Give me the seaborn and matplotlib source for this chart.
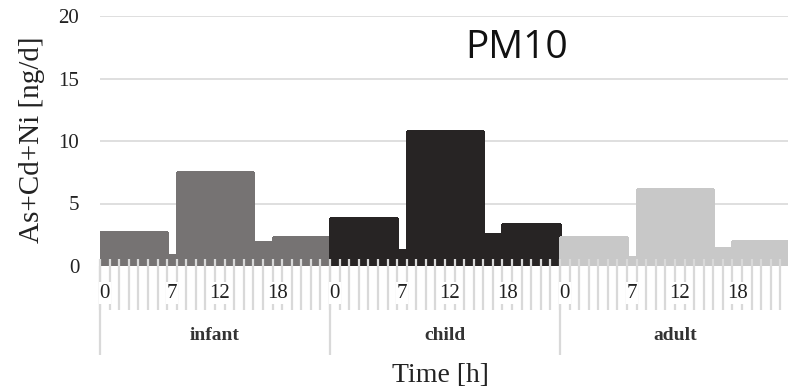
import matplotlib
matplotlib.use("Agg")
import matplotlib.pyplot as plt
import matplotlib.transforms as mtransforms
import pandas as pd
import seaborn as sns

# Hourly exposure (ng/d) for each age group, hours 0..23
groups = ["infant", "child", "adult"]
infant = [2.75, 2.75, 2.75, 2.75, 2.75, 2.75, 2.75, 0.9,
          7.55, 7.55, 7.55, 7.55, 7.55, 7.55, 7.55, 7.55,
          1.9, 1.9, 2.3, 2.3, 2.3, 2.3, 2.3, 2.3]
child = [3.85, 3.85, 3.85, 3.85, 3.85, 3.85, 3.85, 1.3,
         10.8, 10.8, 10.8, 10.8, 10.8, 10.8, 10.8, 10.8,
         2.6, 2.6, 3.4, 3.4, 3.4, 3.4, 3.4, 3.4]
adult = [2.3, 2.3, 2.3, 2.3, 2.3, 2.3, 2.3, 0.75,
         6.15, 6.15, 6.15, 6.15, 6.15, 6.15, 6.15, 6.15,
         1.45, 1.45, 2.0, 2.0, 2.0, 2.0, 2.0, 2.0]
hours = list(range(24))
hour_labels_shown = [0, 7, 12, 18]
colors = ["#767272", "#272324", "#c8c8c8"]
yticks = [0, 5, 10, 15, 20]

series = [infant, child, adult]
rows = []
for gi, (g, vals) in enumerate(zip(groups, series)):
    for h, v in zip(hours, vals):
        rows.append({"slot": gi * len(hours) + h, "group": g, "hour": h, "value": v})
df = pd.DataFrame(rows)

sns.set_theme(style="white")
plt.rcParams["font.family"] = ["Liberation Serif", "DejaVu Serif"]

W, H = 788, 391
fig = plt.figure(figsize=(W / 100, H / 100), dpi=100)
ax = fig.add_axes([100 / W, 125 / H, 690 / W, 250 / H])

sns.barplot(data=df, x="slot", y="value", hue="group", hue_order=groups,
            palette=colors, dodge=False, width=1.0, linewidth=0,
            legend=False, ax=ax, zorder=2)
# close the hairline seams between adjacent hourly bars
for p in ax.patches:
    p.set_edgecolor(p.get_facecolor())
    p.set_linewidth(0.8)
    p.set_antialiased(False)

n = len(df)
ax.set_xlim(-0.5, n - 0.5)
ax.set_ylim(0, 20)
ax.set_yticks(yticks)
ax.set_yticklabels([str(t) for t in yticks], fontsize=15, color="#222222")
ax.tick_params(axis="y", length=0, pad=15)
ax.set_xticks([])
ax.set_xlabel("")
ax.set_ylabel("")
for s in ax.spines.values():
    s.set_visible(False)

grid_c = "#d9d9d9"
# horizontal gridlines
for t in yticks[1:]:
    ax.axhline(t, color=grid_c, lw=1.2, zorder=1)

trans = mtransforms.blended_transform_factory(ax.transData, ax.transAxes)
# hour tick marks (they run slightly up into the bars)
up = 0.55 / 20
for k in range(n + 1):
    ax.plot([k - 0.5, k - 0.5], [up, -0.176], transform=trans,
            color=grid_c, lw=1.6, clip_on=False, zorder=4,
            solid_capstyle="butt")
# group separators
for gi in range(len(groups) + 1):
    x = gi * len(hours) - 0.5
    ax.plot([x, x], [0, -0.356], transform=trans, color=grid_c,
            lw=1.6, clip_on=False, zorder=4, solid_capstyle="butt")

# hour labels and group labels
for gi, g in enumerate(groups):
    for h in hour_labels_shown:
        ax.text(gi * len(hours) + h, -0.108, str(h), transform=trans,
                ha="center", va="center", fontsize=15, color="#222222",
                zorder=6, bbox=dict(boxstyle="square,pad=0.05", fc="white",
                                    ec="none"))
    ax.text(gi * len(hours) + (len(hours) - 1) / 2, -0.28, g, transform=trans,
            ha="center", va="center", fontsize=14, weight="bold",
            color="#333333")

fig.text(440 / W, 1 - 375 / H, "Time [h]", ha="center", va="center",
         fontsize=20, color="#222222")
fig.text(32 / W, 1 - 140 / H, "As+Cd+Ni [ng/d]", ha="center", va="center",
         rotation=90, fontsize=21, color="#222222")
fig.text(517 / W, 1 - 48 / H, "PM10", ha="center", va="center",
         fontsize=28, family=["Open Sans", "DejaVu Sans"], color="#111111")

fig.savefig("out.png", dpi=100)
